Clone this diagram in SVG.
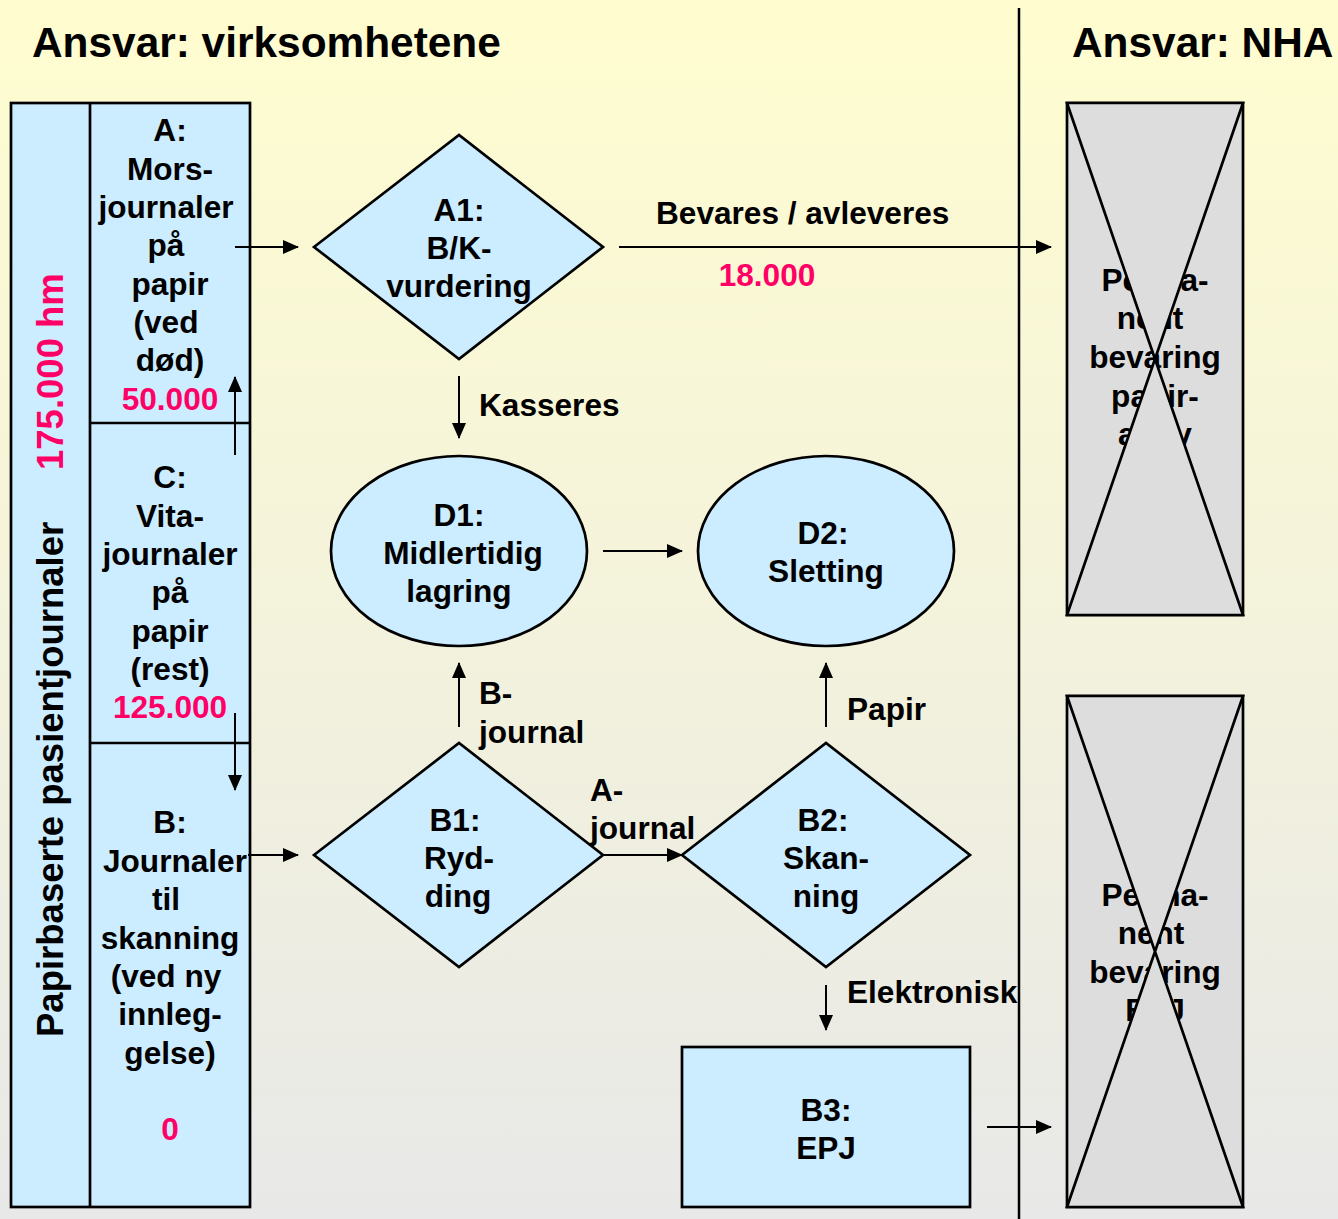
<svg xmlns="http://www.w3.org/2000/svg" width="1338" height="1219" viewBox="0 0 1338 1219">
<defs>
<linearGradient id="bg" x1="0" y1="0" x2="0" y2="1">
<stop offset="0" stop-color="#FFFDCF"/>
<stop offset="1" stop-color="#E8E8E8"/>
</linearGradient>
<marker id="ah" markerUnits="userSpaceOnUse" markerWidth="16" markerHeight="14" refX="15" refY="7" orient="auto">
<path d="M0,0 L16,7 L0,14 Z" fill="#000"/>
</marker>
</defs>
<style>
text{font-family:"Liberation Sans",Arial,sans-serif;font-weight:bold;font-size:31.6px;fill:#000}
.c{text-anchor:middle}
.pk{fill:#FF0066}
.ttl{font-size:42.4px}
.shape{fill:#CCECFF;stroke:#000;stroke-width:2.7}
.gray{fill:#DDDDDD;stroke:#000;stroke-width:2.7}
.con line{stroke:#000;stroke-width:2;marker-end:url(#ah)}
</style>
<rect x="0" y="0" width="1338" height="1219" fill="url(#bg)"/>
<line x1="1019" y1="8" x2="1019" y2="1219" stroke="#000" stroke-width="2.5"/>
<text x="32" y="57" class="ttl">Ansvar: virksomhetene</text>
<text x="1072" y="57" class="ttl">Ansvar: NHA</text>

<g id="left-column">
<rect x="11" y="103" width="239" height="1104" class="shape"/>
<line x1="90" y1="103" x2="90" y2="1207" stroke="#000" stroke-width="2.7"/>
<line x1="90" y1="423" x2="250" y2="423" stroke="#000" stroke-width="2.7"/>
<line x1="90" y1="743" x2="250" y2="743" stroke="#000" stroke-width="2.7"/>
<text transform="translate(63,1037) rotate(-90)" style="font-size:36.5px">Papirbaserte pasientjournaler</text>
<text transform="translate(63,470) rotate(-90)" class="pk" style="font-size:36.5px">175.000 hm</text>
</g>

<g id="A">
<text class="c" x="170" y="141">A:</text>
<text class="c" x="170" y="180">Mors-</text>
<text class="c" x="166" y="218">journaler</text>
<text class="c" x="166" y="256">på</text>
<text class="c" x="170" y="295">papir</text>
<text class="c" x="166" y="333">(ved</text>
<text class="c" x="170" y="371">død)</text>
<text class="c pk" x="170" y="410">50.000</text>
</g>
<g id="C">
<text class="c" x="170" y="488">C:</text>
<text class="c" x="170" y="527">Vita-</text>
<text class="c" x="170" y="565">journaler</text>
<text class="c" x="170" y="603">på</text>
<text class="c" x="170" y="642">papir</text>
<text class="c" x="170" y="680">(rest)</text>
<text class="c pk" x="170" y="718">125.000</text>
</g>
<g id="B">
<text class="c" x="170" y="833">B:</text>
<text class="c" x="175" y="872">Journaler</text>
<text class="c" x="166" y="910">til</text>
<text class="c" x="170" y="949">skanning</text>
<text class="c" x="166" y="987">(ved ny</text>
<text class="c" x="170" y="1025">innleg-</text>
<text class="c" x="170" y="1064">gelse)</text>
<text class="c pk" x="170" y="1140">0</text>
</g>

<g id="A1">
<polygon points="314,247 459,135 603,247 459,359" class="shape"/>
<text class="c" x="459" y="221">A1:</text>
<text class="c" x="459" y="259">B/K-</text>
<text class="c" x="459" y="297">vurdering</text>
</g>
<g id="D1">
<ellipse cx="459" cy="551" rx="128" ry="95" class="shape"/>
<text class="c" x="459" y="526">D1:</text>
<text class="c" x="463" y="564">Midlertidig</text>
<text class="c" x="459" y="602">lagring</text>
</g>
<g id="D2">
<ellipse cx="826" cy="551" rx="128" ry="95" class="shape"/>
<text class="c" x="823" y="544">D2:</text>
<text class="c" x="826" y="582">Sletting</text>
</g>
<g id="B1">
<polygon points="314,855 459,743 603,855 459,967" class="shape"/>
<text class="c" x="455" y="831">B1:</text>
<text class="c" x="459" y="869">Ryd-</text>
<text class="c" x="458" y="907">ding</text>
</g>
<g id="B2">
<polygon points="682,855 826,743 970,855 826,967" class="shape"/>
<text class="c" x="823" y="831">B2:</text>
<text class="c" x="826" y="869">Skan-</text>
<text class="c" x="826" y="907">ning</text>
</g>
<g id="B3">
<rect x="682" y="1047" width="288" height="160" class="shape"/>
<text class="c" x="826" y="1121">B3:</text>
<text class="c" x="826" y="1159">EPJ</text>
</g>

<g id="NHA-papir">
<rect x="1067" y="103" width="176" height="512" class="gray"/>
<text class="c" x="1155" y="291">Perma-</text>
<text class="c" x="1150" y="329">nent</text>
<text class="c" x="1155" y="368">bevaring</text>
<text class="c" x="1155" y="407">papir-</text>
<text class="c" x="1155" y="445">arkiv</text>
<polygon points="1067,103 1243,103 1155,359 1243,615 1067,615 1155,359" class="gray"/>
</g>
<g id="NHA-EPJ">
<rect x="1067" y="696" width="176" height="511" class="gray"/>
<text class="c" x="1155" y="906">Perma-</text>
<text class="c" x="1151" y="944">nent</text>
<text class="c" x="1155" y="983">bevaring</text>
<text class="c" x="1155" y="1021">EPJ</text>
<polygon points="1067,696 1243,696 1155,951.5 1243,1207 1067,1207 1155,951.5" class="gray"/>
</g>

<g id="connectors" class="con">
<line x1="235" y1="455" x2="235" y2="377"/>
<line x1="235" y1="713" x2="235" y2="790"/>
<line x1="235" y1="247" x2="298" y2="247"/>
<line x1="619" y1="247" x2="1051" y2="247"/>
<line x1="459" y1="376" x2="459" y2="438"/>
<line x1="603" y1="551" x2="682" y2="551"/>
<line x1="459" y1="727" x2="459" y2="663"/>
<line x1="248" y1="855" x2="298" y2="855"/>
<line x1="603" y1="855" x2="682" y2="855"/>
<line x1="826" y1="727" x2="826" y2="663"/>
<line x1="826" y1="985" x2="826" y2="1030"/>
<line x1="987" y1="1127" x2="1051" y2="1127"/>
</g>
<g id="labels">
<text x="656" y="224">Bevares / avleveres</text>
<text class="c pk" x="767" y="286">18.000</text>
<text x="479" y="416">Kasseres</text>
<text x="479" y="704">B-</text>
<text x="479" y="743">journal</text>
<text x="590" y="801">A-</text>
<text x="590" y="839">journal</text>
<text x="847" y="720">Papir</text>
<text x="847" y="1003">Elektronisk</text>
</g>
</svg>
